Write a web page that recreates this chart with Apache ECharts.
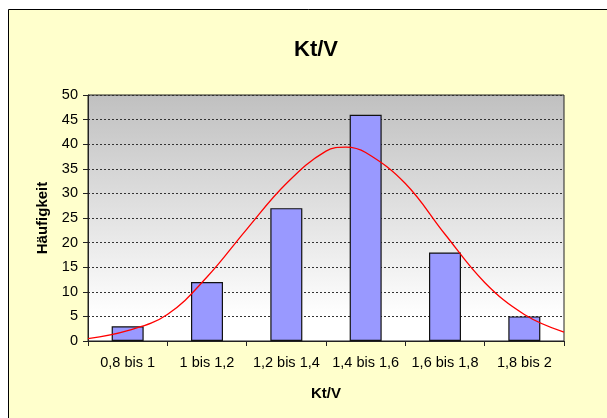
<!DOCTYPE html>
<html>
<head>
<meta charset="utf-8">
<script src="https://cdn.jsdelivr.net/npm/echarts@6/dist/echarts.min.js"></script>
<style>
  html, body { margin: 0; padding: 0; background: #fff; }
  #chart { width: 607px; height: 418px; }
</style>
</head>
<body>
<div id="chart"></div>
<script>
// Klassen und Häufigkeiten
const categories = ["0,8 bis 1", "1 bis 1,2", "1,2 bis 1,4", "1,4 bis 1,6", "1,6 bis 1,8", "1,8 bis 2"];
const counts = [3, 12, 27, 46, 18, 5];

// Normalverteilungskurve (Kt/V, Häufigkeit)
const curveX = [0.8, 0.9, 1.0, 1.1, 1.2, 1.3, 1.4, 1.45, 1.5, 1.6, 1.7, 1.8, 1.9, 2.0];
const curveY = [0.5, 2.1, 5.4, 13.0, 22.7, 32.0, 38.6, 39.4, 38.3, 32.0, 21.7, 11.9, 5.4, 1.8];

const yTicks = [0, 5, 10, 15, 20, 25, 30, 35, 40, 45, 50];

const chart = echarts.init(document.getElementById("chart"));

const font = "Arial, 'Liberation Sans', sans-serif";

chart.setOption({
  animation: false,
  backgroundColor: "#fff",
  graphic: [
    {
      type: "rect",
      z: -10,
      shape: { x: 8.5, y: 9.5, width: 620, height: 430 },
      style: { fill: "#FFFFCC", stroke: "#000", lineWidth: 1 }
    }
  ],
  title: {
    text: "Kt/V",
    left: 311,
    top: 34,
    textAlign: "center",
    textStyle: { fontFamily: font, fontSize: 22, fontWeight: "bold", color: "#000" }
  },
  grid: {
    left: 88,
    top: 95,
    right: 43,
    bottom: 77,
    show: true,
    borderColor: "#222",
    borderWidth: 1,
    backgroundColor: {
      type: "linear", x: 0, y: 0, x2: 0, y2: 1,
      colorStops: [
        { offset: 0, color: "#C0C0C0" },
        { offset: 0.9, color: "#FFFFFF" },
        { offset: 1, color: "#FFFFFF" }
      ]
    }
  },
  xAxis: [
    {
      type: "category",
      data: categories,
      name: "Kt/V",
      nameLocation: "middle",
      nameGap: 45,
      nameTextStyle: { fontFamily: font, fontSize: 15, fontWeight: "bold", color: "#000" },
      axisLine: { lineStyle: { color: "#222", width: 1 } },
      axisTick: { show: true, length: 5, lineStyle: { color: "#222" } },
      axisLabel: { fontFamily: font, fontSize: 14.5, color: "#000", margin: 14, interval: 0 },
      splitLine: { show: false }
    },
    {
      type: "value",
      min: 0.8,
      max: 2.0,
      show: false
    }
  ],
  yAxis: {
    type: "value",
    min: 0,
    max: 50,
    interval: 5,
    name: "Häufigkeit",
    nameLocation: "middle",
    nameGap: 38,
    nameRotate: 90,
    nameTextStyle: { fontFamily: font, fontSize: 15, fontWeight: "bold", color: "#000" },
    axisLine: { show: true, lineStyle: { color: "#222", width: 1 } },
    axisTick: { show: true, length: 5, lineStyle: { color: "#222" } },
    axisLabel: {
      fontFamily: font, fontSize: 14.5, color: "#000", margin: 10,
      formatter: (v) => (yTicks.includes(v) ? String(v) : "")
    },
    splitLine: { show: true, lineStyle: { color: "#333", type: [2, 2], width: 1 } }
  },
  series: [
    {
      type: "bar",
      data: counts,
      barWidth: 32,
      itemStyle: { color: "#9999FF", borderColor: "#111", borderWidth: 1.2 },
      z: 2
    },
    {
      type: "line",
      xAxisIndex: 1,
      data: curveX.map((x, i) => [x, curveY[i]]),
      smooth: 0.4,
      symbol: "none",
      lineStyle: { color: "#FF0000", width: 1.3 },
      z: 3
    }
  ]
});
</script>
</body>
</html>
